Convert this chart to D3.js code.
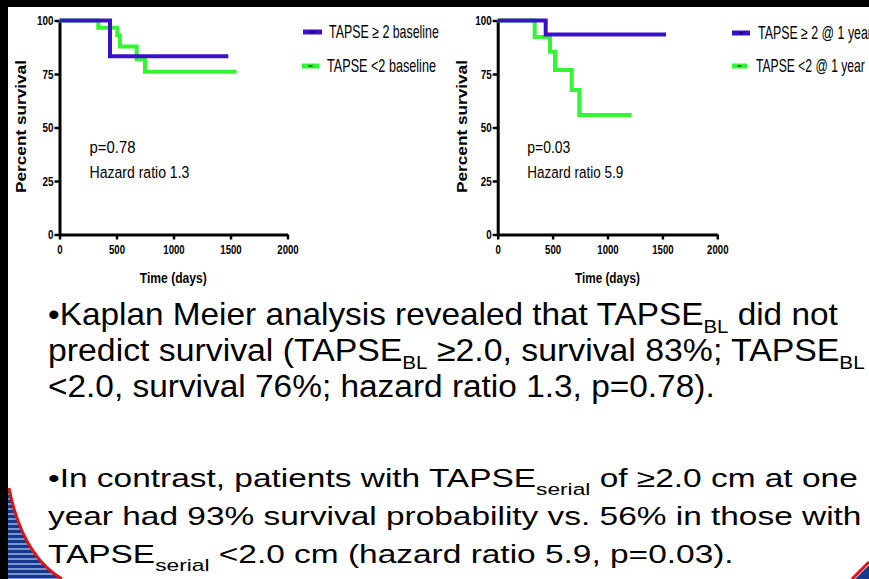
<!DOCTYPE html>
<html>
<head>
<meta charset="utf-8">
<script src="https://cdn.jsdelivr.net/npm/d3@7"></script>
<style>
html, body { margin: 0; padding: 0; background: #fff; }
svg { display: block; }
text { font-family: "Liberation Sans", Arial, sans-serif; white-space: pre; }
</style>
</head>
<body>
<svg id="slide" width="869" height="579"></svg>
<script>
// --- data ---
const baselineLabels = ['TAPSE \u2265 2 baseline', 'TAPSE <2 baseline'];
const blHighDays = [0, 443, 1481];
const blHighSurv = [100, 83.3, 83.3];
const blLowDays = [0, 340, 507, 530, 677, 750, 1554];
const blLowSurv = [100, 96.6, 93.1, 87.8, 81.9, 76.0, 76.0];

const serialLabels = ['TAPSE \u2265 2 @ 1 year', 'TAPSE <2 @ 1 year'];
const srHighDays = [0, 437, 1533];
const srHighSurv = [100, 93.4, 93.4];
const srLowDays = [0, 337, 476, 522, 674, 743, 1220];
const srLowSurv = [100, 92.3, 85.4, 76.9, 67.5, 55.8, 55.8];

const stats1 = ['p=0.78', 'Hazard ratio 1.3'];
const stats2 = ['p=0.03', 'Hazard ratio 5.9'];

const xTicks = [0, 500, 1000, 1500, 2000];
const yTicks = [0, 25, 50, 75, 100];

// bullet text, [text, isSubscript]
const para1 = [
    [['\u2022Kaplan Meier analysis revealed that TAPSE'], ['BL', 1], [' did not']],
    [['predict survival (TAPSE'], ['BL', 1], [' \u22652.0, survival 83%; TAPSE'], ['BL', 1]],
    [['<2.0, survival 76%; hazard ratio 1.3, p=0.78).']]
];
const para2 = [
    [['\u2022In contrast, patients with TAPSE'], ['serial', 1], [' of \u22652.0 cm at one']],
    [['year had 93% survival probability vs. 56% in those with']],
    [['TAPSE'], ['serial', 1], [' <2.0 cm (hazard ratio 5.9, p=0.03).']]
];

const BLUE = '#3a10c8';
const GREEN = '#33f533';

const svg = d3.select('#slide');
svg.append('rect').attr('width', 869).attr('height', 579).attr('fill', '#fff');

// squeeze/stretch a text node so it fills a given width
function fitText(g, text, w) {
    const len = text.node().getComputedTextLength();
    const s = w / len;
    const t = g.attr('transform') || '';
    g.attr('transform', t + ` scale(${s},1)`);
}

function label(x, y, str, w, size, opts = {}) {
    const g = svg.append('g').attr('transform', `translate(${x},${y})` + (opts.rotate ? ' rotate(-90)' : ''));
    const t = g.append('text')
        .attr('font-size', size)
        .attr('font-weight', opts.bold ? 'bold' : 'normal')
        .attr('text-anchor', opts.anchor || 'start')
        .attr('fill', '#000')
        .text(str);
    fitText(g, t, w);
    return g;
}

function drawKM(cfg) {
    const x = d3.scaleLinear().domain([0, 2000]).range(cfg.xRange);
    const y = d3.scaleLinear().domain([0, 100]).range([234.5, 20.5]);
    const g = svg.append('g');

    const yAxis = g.append('g')
        .attr('transform', `translate(${cfg.xRange[0]},0)`)
        .call(d3.axisLeft(y).tickValues(yTicks).tickSize(5).tickSizeOuter(0).tickFormat(d3.format('d')));
    const xAxis = g.append('g')
        .attr('transform', `translate(0,${y(0)})`)
        .call(d3.axisBottom(x).tickValues(xTicks).tickSize(5).tickSizeOuter(0).tickFormat(d3.format('d')));

    [yAxis, xAxis].forEach(a => {
        a.select('.domain').attr('stroke', '#000').attr('stroke-width', 3);
        a.selectAll('.tick line').attr('stroke', '#000').attr('stroke-width', 2.5);
        a.selectAll('.tick text')
            .attr('font-family', '"Liberation Sans", Arial, sans-serif')
            .attr('font-weight', 'bold')
            .attr('font-size', 13)
            .attr('fill', '#000');
    });
    yAxis.selectAll('.tick text').attr('x', -6 / 0.76).attr('transform', 'scale(0.76,1)');
    xAxis.selectAll('.tick text').attr('y', 10.5).attr('transform', 'scale(0.74,1)');

    const line = d3.line()
        .curve(d3.curveStepAfter)
        .x(d => x(d[0]))
        .y(d => y(d[1]));

    cfg.series.slice().reverse().forEach(s => {
        g.append('path')
            .datum(d3.zip(s.days, s.surv))
            .attr('d', line)
            .attr('fill', 'none')
            .attr('stroke', s.color)
            .attr('stroke-width', 4);
    });

    // legend
    cfg.series.forEach((s, i) => {
        const L = cfg.legend[i];
        g.append('line')
            .attr('x1', L.x1).attr('x2', L.x2).attr('y1', L.y).attr('y2', L.y)
            .attr('stroke', s.color).attr('stroke-width', 5);
        g.append('line')
            .attr('x1', (L.x1 + L.x2) / 2 - 2).attr('x2', (L.x1 + L.x2) / 2 + 2)
            .attr('y1', L.y).attr('y2', L.y)
            .attr('stroke', '#000').attr('stroke-width', 1);
        label(L.tx, L.y + 6, s.name, L.tw, 18);
    });

    // stats
    label(cfg.statX, 153, cfg.stats[0], cfg.statW[0], 17);
    label(cfg.statX, 177.5, cfg.stats[1], cfg.statW[1], 17);

    // axis titles
    label(cfg.timeX, 283, 'Time (days)', cfg.timeW, 14.5, { bold: true, anchor: 'middle' });
    label(cfg.survX, 126.5, 'Percent survival', 133, 14.5, { bold: true, anchor: 'middle', rotate: true });
}

drawKM({
    xRange: [59.5, 287.5],
    series: [
        { name: baselineLabels[0], days: blHighDays, surv: blHighSurv, color: BLUE },
        { name: baselineLabels[1], days: blLowDays, surv: blLowSurv, color: GREEN }
    ],
    legend: [
        { x1: 303, x2: 322, y: 32, tx: 329, tw: 110 },
        { x1: 302, x2: 319, y: 66, tx: 327, tw: 109 }
    ],
    stats: stats1, statX: 89.5, statW: [46, 100],
    timeX: 173.3, timeW: 67, survX: 26
});

drawKM({
    xRange: [497.7, 717.3],
    series: [
        { name: serialLabels[0], days: srHighDays, surv: srHighSurv, color: BLUE },
        { name: serialLabels[1], days: srLowDays, surv: srLowSurv, color: GREEN }
    ],
    legend: [
        { x1: 732, x2: 750, y: 33, tx: 758, tw: 114 },
        { x1: 732, x2: 747, y: 66, tx: 756, tw: 109 }
    ],
    stats: stats2, statX: 527.3, statW: [43, 96],
    timeX: 607.5, timeW: 65, survX: 466.5
});

// bullet paragraphs
function paragraph(lines, baselines, widths, size, subSize, subDy) {
    lines.forEach((segs, i) => {
        const g = svg.append('g').attr('transform', `translate(48,${baselines[i]})`);
        const t = g.append('text').attr('font-size', size).attr('fill', '#000');
        let down = false;
        segs.forEach(([str, sub]) => {
            const ts = t.append('tspan').text(str);
            if (sub) {
                ts.attr('font-size', subSize).attr('dy', subDy);
                down = true;
            } else if (down) {
                ts.attr('dy', -subDy);
                down = false;
            }
        });
        fitText(g, t, widths[i]);
    });
}

paragraph(para1, [325, 361, 397], [790, 817, 667], 31, 19, 8);
paragraph(para2, [487, 525, 563], [810, 814, 686], 25, 17, 8);

// slide frame pieces
svg.append('rect').attr('width', 869).attr('height', 7).attr('fill', '#000');
svg.append('rect').attr('width', 8).attr('height', 579).attr('fill', '#000');

const stripes = svg.append('defs').append('pattern')
    .attr('id', 'stripes').attr('patternUnits', 'userSpaceOnUse')
    .attr('width', 10).attr('height', 5);
stripes.append('rect').attr('width', 10).attr('height', 5).attr('fill', '#16388c');
stripes.append('rect').attr('y', 3).attr('width', 10).attr('height', 2).attr('fill', '#7896d2');

svg.append('path')
    .attr('d', 'M8,488 L9,488 Q22,555 62,579 L8,579 Z')
    .attr('fill', 'url(#stripes)');
svg.append('path')
    .attr('d', 'M9,488 Q22,555 62,579')
    .attr('fill', 'none').attr('stroke', '#e01313').attr('stroke-width', 3);

svg.append('path')
    .attr('d', 'M855,579 L869,565 L869,579 Z')
    .attr('fill', '#16388c');
svg.append('path')
    .attr('d', 'M852,579 L869,562')
    .attr('stroke', '#e01313').attr('stroke-width', 3);
</script>
</body>
</html>
